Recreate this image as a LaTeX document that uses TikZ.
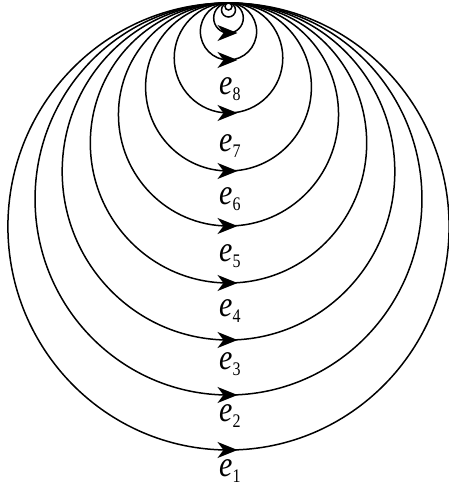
\documentclass[tikz,border=0pt]{standalone}
\usepackage{fontspec}
\setmainfont{Liberation Serif}
\usetikzlibrary{arrows.meta,decorations.markings}
\newcommand\elabel[1]{\scalebox{1}[1.2]{\fontsize{30}{30}\selectfont\itshape e\raisebox{-4.5pt}{\upshape\fontsize{16}{16}\selectfont #1}}}
\tikzset{
  loopline/.style={line width=1.5pt, black},
  arrowed/.style={loopline, postaction={decorate},
    decoration={markings, mark=at position 0.75 with
      {\arrow[xshift=9pt]{Stealth[length=20pt,width=16pt,inset=6pt]}}}},
  elab/.style={inner sep=0pt, anchor=base west}
}
\begin{document}
\begin{tikzpicture}[x=1pt,y=1pt]
\useasboundingbox (0,0) rectangle (449,493);
% circles tangent at top point (228.5,490); list of image bottoms
\foreach \b in {450,395,340,283,226,171,113,60,33} {
  \pgfmathsetmacro\ry{(\b-3)/2}
  \pgfmathsetmacro\rx{0.987*\ry}
  \pgfmathsetmacro\cy{(490+493-\b)/2}
  \draw[arrowed] (228.5,\cy) ellipse [x radius=\rx, y radius=\ry];
}
\foreach \b in {17,10} {
  \pgfmathsetmacro\ry{(\b-3)/2}
  \pgfmathsetmacro\cy{(490+493-\b)/2}
  \draw[loopline] (228.5,\cy) ellipse [x radius=\ry, y radius=\ry];
}
\node[elab] (e1) at (219,16) {\elabel{1}};
\node[elab] (e2) at (219,71) {\elabel{2}};
\node[elab] (e3) at (219,123) {\elabel{3}};
\node[elab] (e4) at (219,176) {\elabel{4}};
\node[elab] (e5) at (219,231) {\elabel{5}};
\node[elab] (e6) at (219,288) {\elabel{6}};
\node[elab] (e7) at (219,341) {\elabel{7}};
\node[elab] (e8) at (219,398) {\elabel{8}};
\end{tikzpicture}
\end{document}
